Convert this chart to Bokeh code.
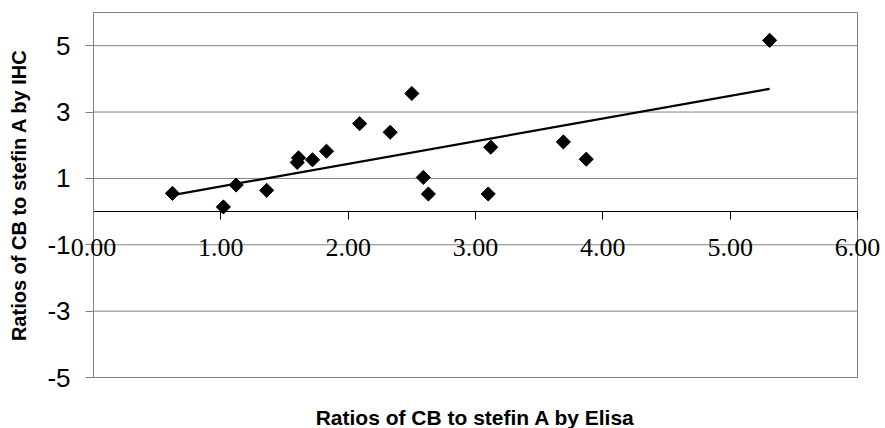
import numpy as np
from bokeh.plotting import figure
from bokeh.models import (LinearAxis, FixedTicker, Range1d,
                          ColumnDataSource, LabelSet, Label)
from bokeh.embed import file_html
from bokeh.resources import INLINE

# Data
elisa = [0.62, 1.02, 1.12, 1.36, 1.60, 1.61, 1.72, 1.83, 2.09, 2.33, 2.50,
         2.59, 2.63, 3.10, 3.12, 3.69, 3.87, 5.31]
ihc = [0.55, 0.14, 0.80, 0.64, 1.48, 1.62, 1.56, 1.82, 2.65, 2.39, 3.56,
       1.03, 0.53, 0.53, 1.94, 2.10, 1.58, 5.16]

x_ticks = [0, 1, 2, 3, 4, 5, 6]
x_tick_labels = ["0.00", "1.00", "2.00", "3.00", "4.00", "5.00", "6.00"]
y_ticks = [-5, -3, -1, 1, 3, 5]
y_tick_labels = ["-5", "-3", "-1", "1", "3", "5"]

x_title = "Ratios of CB to stefin A by Elisa"
y_title = "Ratios of CB to stefin A by IHC"

# axis extents of the plot box
x_min, x_max = 0, 6
y_min, y_max = -5, 6

# layout (pixels): where the plot box sits inside the canvas
W, H = 885, 428
BOX_L, BOX_R, BOX_T, BOX_B = 93, 857, 12, 377

FONT = "Liberation Sans"
GRAY = "#808080"

# ranges so that the plot box lands at the given pixels (canvas == frame)
kx = (BOX_R - BOX_L) / (x_max - x_min)
ky = (BOX_B - BOX_T) / (y_max - y_min)
xr = Range1d(x_min - BOX_L / kx, x_max + (W - BOX_R) / kx)
yr = Range1d(y_min - (H - BOX_B) / ky, y_max + BOX_T / ky)

# Linear trendline computed from the data
slope, intercept = np.polyfit(elisa, ihc, 1)
trend_x = [min(elisa), max(elisa)]
trend_y = [slope * v + intercept for v in trend_x]

p = figure(width=W, height=H, output_backend="svg", toolbar_location=None,
           x_range=xr, y_range=yr,
           x_axis_location=None, y_axis_location=None,
           min_border=0, min_border_left=0, min_border_right=0,
           min_border_top=0, min_border_bottom=0)
p.background_fill_color = "white"
p.border_fill_color = "white"
p.outline_line_color = None
for g in list(p.grid):
    g.visible = False

# horizontal grid lines across the plot box
p.segment(x0=[x_min] * len(y_ticks), x1=[x_max] * len(y_ticks),
          y0=y_ticks, y1=y_ticks, line_color=GRAY, line_width=1)

# plot box border
p.quad(left=[x_min], right=[x_max], bottom=[y_min], top=[y_max],
       fill_color=None, line_color=GRAY, line_width=1)

# y axis along x = 0
yaxis = LinearAxis(ticker=FixedTicker(ticks=y_ticks), fixed_location=x_min,
                   bounds=(y_min, y_max),
                   major_label_overrides=dict(zip(y_ticks, y_tick_labels)),
                   axis_label=y_title)
yaxis.axis_line_color = GRAY
yaxis.major_tick_line_color = GRAY
yaxis.major_tick_in = 0
yaxis.major_tick_out = 8
yaxis.minor_tick_line_color = None
yaxis.major_label_standoff = 15
yaxis.major_label_text_font = FONT
yaxis.major_label_text_font_size = "26px"
yaxis.major_label_text_color = "black"
yaxis.axis_label_text_font = FONT
yaxis.axis_label_text_font_size = "20px"
yaxis.axis_label_text_font_style = "bold"
yaxis.axis_label_text_color = "black"
yaxis.axis_label_standoff = 14
p.add_layout(yaxis, "left")

# x axis crossing at y = 0 (line and ticks)
xaxis = LinearAxis(ticker=FixedTicker(ticks=x_ticks), fixed_location=0,
                   bounds=(x_min, x_max))
xaxis.axis_line_color = "black"
xaxis.axis_line_width = 1
xaxis.major_tick_line_color = "black"
xaxis.major_tick_in = 0
xaxis.major_tick_out = 8
xaxis.minor_tick_line_color = None
xaxis.major_label_text_font_size = "0px"
xaxis.major_label_text_color = None
p.add_layout(xaxis, "below")

# x tick labels
lab_src = ColumnDataSource(data=dict(x=x_ticks, y=[0] * len(x_ticks),
                                     t=x_tick_labels))
xlabels = LabelSet(x="x", y="y", text="t", source=lab_src,
                   y_offset=-36, text_align="center", text_baseline="middle",
                   text_font=FONT, text_font_size="26px", text_color="black")
p.add_layout(xlabels)

# x axis title
xt = Label(x=(x_min + x_max) / 2, y=y_min, y_offset=-40, text=x_title,
           text_align="center", text_baseline="middle",
           text_font=FONT, text_font_size="21px", text_font_style="bold",
           text_color="black")
p.add_layout(xt)

# trendline
p.line(trend_x, trend_y, line_color="black", line_width=2.2)

# data points (diamonds)
src = ColumnDataSource(data=dict(x=elisa, y=ihc))
p.scatter("x", "y", source=src, marker="square", angle=np.pi / 4, size=10,
          fill_color="black", line_color="black")

open("out.html", "w").write(file_html(p, INLINE))
